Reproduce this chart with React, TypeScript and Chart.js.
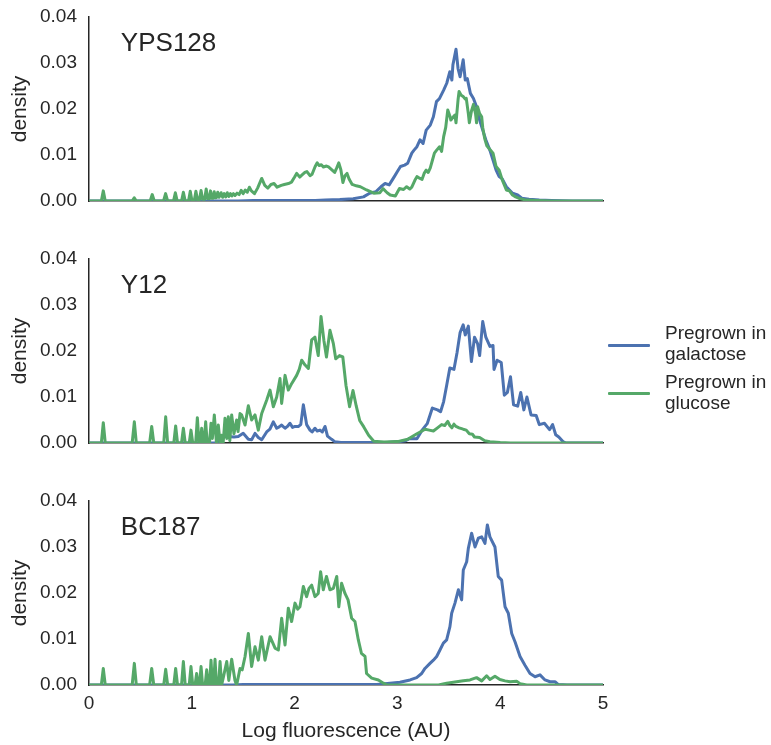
import React, { useEffect, useRef } from "react";
import { Chart, registerables } from "chart.js";

Chart.register(...registerables);

// ---------------- data ----------------
const panelNames = ["YPS128", "Y12", "BC187"];
const seriesNames = ["Pregrown in galactose", "Pregrown in glucose"];
const legendLines = [["Pregrown in", "galactose"], ["Pregrown in", "glucose"]];
const xTicks = [0, 1, 2, 3, 4, 5];
const yTicks = [0, 0.01, 0.02, 0.03, 0.04];
const xTitle = "Log fluorescence (AU)";
const yTitle = "density";

type P = [number, number];

const yps128Galactose: P[] = [
  [0, 0], [1.45, 0], [1.6, 0.0001], [2.0, 0.0001], [2.2, 0.0001], [2.3, 0.0002], [2.44, 0.0003], [2.57, 0.0005],
  [2.67, 0.0009], [2.73, 0.0017], [2.79, 0.002], [2.84, 0.0031], [2.88, 0.0038], [2.92, 0.0035], [2.97, 0.0053],
  [3.0, 0.0064], [3.03, 0.0075], [3.07, 0.0078], [3.1, 0.0082], [3.14, 0.0104], [3.16, 0.011], [3.19, 0.0118],
  [3.22, 0.0133], [3.25, 0.0125], [3.28, 0.0154], [3.32, 0.0165], [3.35, 0.0183], [3.38, 0.0216], [3.41, 0.0223],
  [3.45, 0.0241], [3.48, 0.0256], [3.51, 0.0281], [3.53, 0.0263], [3.54, 0.0296], [3.57, 0.033], [3.59, 0.0288],
  [3.61, 0.027], [3.64, 0.0307], [3.66, 0.0263], [3.68, 0.0266], [3.71, 0.0234], [3.74, 0.0223], [3.77, 0.0205],
  [3.8, 0.0176], [3.83, 0.0154], [3.86, 0.0133], [3.9, 0.011], [3.93, 0.0089], [3.96, 0.0067], [3.99, 0.0053],
  [4.02, 0.0048], [4.06, 0.0031], [4.09, 0.0024], [4.12, 0.0017], [4.17, 0.0013], [4.21, 0.0006], [4.28, 0.0004],
  [4.38, 0.0002], [4.5, 0.0001], [4.7, 0], [5, 0],
];

const yps128Glucose: P[] = [
  [0, 0], [0.12, 0], [0.139, 0.0022], [0.158, 0], [0.42, 0], [0.44, 0.0007], [0.46, 0],
  [0.595, 0], [0.615, 0.0014], [0.635, 0], [0.725, 0], [0.745, 0.0016], [0.765, 0],
  [0.822, 0], [0.84, 0.0018], [0.858, 0], [0.9, 0], [0.918, 0.0019], [0.936, 0],
  [0.968, 0], [0.985, 0.0021], [1.002, 0], [1.025, 0.0002], [1.04, 0.0021], [1.055, 0.0003],
  [1.075, 0.0003], [1.09, 0.0023], [1.105, 0.0004], [1.125, 0.0004], [1.14, 0.0026], [1.155, 0.0005],
  [1.17, 0.0005], [1.182, 0.0022], [1.195, 0.0006], [1.207, 0.0006], [1.218, 0.002], [1.232, 0.0007],
  [1.242, 0.0008], [1.252, 0.0019], [1.265, 0.0008], [1.285, 0.0018], [1.3, 0.0008], [1.315, 0.0016],
  [1.33, 0.0009], [1.345, 0.0018], [1.36, 0.001], [1.375, 0.0016], [1.39, 0.0011], [1.405, 0.0016],
  [1.42, 0.0012], [1.44, 0.0017], [1.46, 0.0014], [1.48, 0.0023], [1.5, 0.0016], [1.52, 0.0024],
  [1.54, 0.0019], [1.56, 0.003], [1.58, 0.0022], [1.61, 0.0016], [1.64, 0.0028], [1.68, 0.0049],
  [1.71, 0.0034], [1.74, 0.0028], [1.77, 0.0036], [1.8, 0.0038], [1.83, 0.003], [1.87, 0.0034],
  [1.9, 0.0036], [1.94, 0.0038], [1.97, 0.0041], [2.0, 0.0052], [2.02, 0.006], [2.05, 0.0052],
  [2.07, 0.0056], [2.1, 0.0062], [2.12, 0.0064], [2.15, 0.0055], [2.17, 0.0058], [2.2, 0.0075],
  [2.22, 0.0083], [2.24, 0.0077], [2.26, 0.0079], [2.28, 0.0074], [2.31, 0.0076], [2.33, 0.0074],
  [2.36, 0.0068], [2.39, 0.0062], [2.41, 0.0072], [2.43, 0.0083], [2.45, 0.0068], [2.47, 0.004],
  [2.49, 0.0055], [2.51, 0.006], [2.53, 0.0048], [2.56, 0.0036], [2.6, 0.0033], [2.64, 0.0031],
  [2.7, 0.0024], [2.77, 0.0017], [2.83, 0.0018], [2.86, 0.0027], [2.9, 0.0018], [2.93, 0.0013],
  [2.98, 0.0011], [3.02, 0.0027], [3.06, 0.0025], [3.09, 0.0031], [3.12, 0.0026], [3.14, 0.003],
  [3.17, 0.0045], [3.19, 0.0053], [3.22, 0.0049], [3.24, 0.0047], [3.26, 0.006], [3.28, 0.0067],
  [3.3, 0.0062], [3.32, 0.0072], [3.34, 0.0088], [3.36, 0.0104], [3.38, 0.011], [3.41, 0.0118],
  [3.43, 0.0108], [3.45, 0.014], [3.47, 0.016], [3.49, 0.0198], [3.51, 0.0185], [3.52, 0.0176],
  [3.54, 0.0182], [3.56, 0.0187], [3.57, 0.017], [3.59, 0.022], [3.6, 0.0238], [3.62, 0.023],
  [3.64, 0.0227], [3.66, 0.0222], [3.67, 0.0223], [3.69, 0.019], [3.7, 0.017], [3.72, 0.0195],
  [3.74, 0.021], [3.76, 0.019], [3.77, 0.017], [3.78, 0.0205], [3.8, 0.019], [3.82, 0.0183],
  [3.83, 0.016], [3.85, 0.0135], [3.87, 0.012], [3.9, 0.0112], [3.93, 0.0104], [3.96, 0.0075],
  [3.99, 0.0067], [4.02, 0.0046], [4.06, 0.0024], [4.09, 0.0022], [4.12, 0.0013], [4.15, 0.0009],
  [4.18, 0.0006], [4.25, 0.0002], [4.35, 0.0001], [4.5, 0], [5, 0],
];

const y12Galactose: P[] = [
  [0, 0], [1.25, 0], [1.258, 0.0012], [1.29, 0.0014], [1.35, 0.0014], [1.41, 0.0013], [1.452, 0.0014],
  [1.5, 0.0021], [1.55, 0.0008], [1.582, 0.0007], [1.615, 0.0021], [1.647, 0.0012], [1.68, 0.0007],
  [1.728, 0.0024], [1.76, 0.003], [1.793, 0.0046], [1.826, 0.0032], [1.85, 0.0035], [1.874, 0.0039],
  [1.907, 0.0032], [1.93, 0.0036], [1.955, 0.0043], [1.98, 0.0034], [2.004, 0.0036], [2.036, 0.0036],
  [2.06, 0.004], [2.085, 0.0083], [2.117, 0.004], [2.15, 0.0028], [2.17, 0.0024], [2.198, 0.0032],
  [2.22, 0.0026], [2.247, 0.0028], [2.27, 0.0024], [2.296, 0.0036], [2.32, 0.0015], [2.36, 0.0008],
  [2.39, 0.0003], [2.45, 0.0001], [2.9, 0.0001], [3.02, 0.0003], [3.08, 0.0005], [3.12, 0.001],
  [3.19, 0.0009], [3.24, 0.0028], [3.29, 0.0042], [3.34, 0.0076], [3.39, 0.0072], [3.42, 0.0068],
  [3.45, 0.009], [3.48, 0.0126], [3.51, 0.0163], [3.55, 0.016], [3.58, 0.0196], [3.61, 0.024],
  [3.64, 0.0257], [3.66, 0.0235], [3.69, 0.0254], [3.72, 0.0177], [3.75, 0.023], [3.78, 0.0216],
  [3.8, 0.019], [3.83, 0.0264], [3.86, 0.023], [3.9, 0.021], [3.93, 0.0212], [3.94, 0.016],
  [3.97, 0.018], [4.01, 0.0175], [4.04, 0.0104], [4.07, 0.011], [4.1, 0.0144], [4.13, 0.0083],
  [4.17, 0.008], [4.2, 0.011], [4.23, 0.0072], [4.26, 0.01], [4.3, 0.0061], [4.35, 0.006],
  [4.38, 0.004], [4.43, 0.0043], [4.48, 0.0029], [4.51, 0.004], [4.54, 0.0018], [4.57, 0.0013],
  [4.61, 0.0003], [4.64, 0], [5, 0],
];

const y12Glucose: P[] = [
  [0, 0], [0.12, 0], [0.139, 0.0044], [0.158, 0], [0.42, 0], [0.441, 0.0046], [0.46, 0],
  [0.59, 0], [0.61, 0.0036], [0.63, 0], [0.727, 0], [0.746, 0.0057], [0.765, 0],
  [0.825, 0], [0.843, 0.0037], [0.861, 0], [0.9, 0], [0.918, 0.0032], [0.936, 0],
  [0.975, 0], [0.992, 0.0028], [1.009, 0], [1.038, 0], [1.054, 0.0055], [1.07, 0],
  [1.082, 0], [1.096, 0.0032], [1.11, 0], [1.12, 0], [1.135, 0.0046], [1.15, 0],
  [1.172, 0], [1.187, 0.0043], [1.2, 0.001], [1.219, 0.0061], [1.24, 0], [1.258, 0.0039],
  [1.275, 0], [1.29, 0.0017], [1.305, 0], [1.323, 0.0054], [1.34, 0.001], [1.355, 0.0057],
  [1.37, 0.0005], [1.388, 0.0061], [1.41, 0.002], [1.436, 0.005], [1.45, 0.0025], [1.469, 0.0064],
  [1.485, 0.0061], [1.518, 0.0039], [1.55, 0.0081], [1.582, 0.005], [1.615, 0.0061], [1.647, 0.0028],
  [1.68, 0.0064], [1.728, 0.0093], [1.761, 0.0115], [1.793, 0.0079], [1.826, 0.01], [1.858, 0.014],
  [1.874, 0.0086], [1.907, 0.0147], [1.939, 0.0115], [1.971, 0.0129], [2.02, 0.0147], [2.045, 0.016],
  [2.069, 0.018], [2.1, 0.017], [2.134, 0.0162], [2.166, 0.0224], [2.198, 0.023], [2.23, 0.019],
  [2.257, 0.0275], [2.285, 0.0223], [2.31, 0.0187], [2.344, 0.0245], [2.377, 0.0216], [2.4, 0.0183],
  [2.437, 0.019], [2.469, 0.0187], [2.5, 0.0125], [2.535, 0.0079], [2.568, 0.0114], [2.6, 0.008],
  [2.633, 0.0049], [2.673, 0.0035], [2.72, 0.0017], [2.77, 0.0004], [2.87, 0.0002], [3.0, 0.0003],
  [3.1, 0.0008], [3.19, 0.002], [3.23, 0.0025], [3.27, 0.003], [3.31, 0.0028], [3.35, 0.0026],
  [3.39, 0.0033], [3.43, 0.004], [3.46, 0.0038], [3.49, 0.0047], [3.51, 0.0038], [3.53, 0.0033],
  [3.55, 0.0041], [3.57, 0.0036], [3.6, 0.0033], [3.64, 0.003], [3.67, 0.0028], [3.7, 0.002],
  [3.73, 0.0019], [3.75, 0.0013], [3.8, 0.0012], [3.85, 0.0005], [3.9, 0.0003], [4.0, 0.0001],
  [4.1, 0], [5, 0],
];

const bc187Galactose: P[] = [
  [0, 0], [1.4, 0], [1.5, 0.0001], [2.8, 0.0001], [2.928, 0.0004], [3.025, 0.0006], [3.123, 0.0011],
  [3.187, 0.0016], [3.236, 0.0025], [3.268, 0.0036], [3.317, 0.0047], [3.35, 0.0054], [3.382, 0.0062],
  [3.414, 0.0076], [3.447, 0.0091], [3.479, 0.0098], [3.511, 0.0127], [3.528, 0.0156], [3.56, 0.0178],
  [3.593, 0.0207], [3.625, 0.0185], [3.641, 0.025], [3.674, 0.0268], [3.69, 0.0297], [3.722, 0.033],
  [3.755, 0.03], [3.787, 0.0319], [3.82, 0.0322], [3.852, 0.0308], [3.875, 0.0348], [3.9, 0.0322],
  [3.949, 0.03], [3.981, 0.0236], [4.014, 0.0228], [4.047, 0.017], [4.079, 0.0156], [4.112, 0.0112],
  [4.144, 0.0094], [4.193, 0.0062], [4.241, 0.0043], [4.29, 0.0025], [4.339, 0.0018], [4.387, 0.0022],
  [4.436, 0.0011], [4.485, 0.0007], [4.533, 0.0007], [4.566, 0.0001], [4.65, 0], [5, 0],
];

const bc187Glucose: P[] = [
  [0, 0], [0.12, 0], [0.139, 0.0036], [0.158, 0], [0.42, 0], [0.441, 0.0047], [0.46, 0],
  [0.59, 0], [0.61, 0.0036], [0.63, 0], [0.727, 0], [0.746, 0.0034], [0.765, 0],
  [0.825, 0], [0.843, 0.0036], [0.861, 0], [0.9, 0], [0.918, 0.0051], [0.936, 0],
  [0.975, 0], [0.992, 0.004], [1.009, 0], [1.032, 0], [1.047, 0.0025], [1.062, 0],
  [1.075, 0], [1.09, 0.004], [1.105, 0], [1.13, 0], [1.145, 0.0033], [1.16, 0],
  [1.173, 0], [1.187, 0.0054], [1.2, 0], [1.212, 0], [1.226, 0.0056], [1.24, 0],
  [1.26, 0], [1.275, 0.0051], [1.29, 0], [1.31, 0.002], [1.34, 0.0051], [1.36, 0.001],
  [1.388, 0.0056], [1.42, 0.001], [1.436, 0], [1.45, 0.0015], [1.469, 0.0036], [1.49, 0.0033],
  [1.518, 0.0062], [1.55, 0.0112], [1.582, 0.004], [1.615, 0.0083], [1.647, 0.0054], [1.68, 0.0105],
  [1.712, 0.0054], [1.761, 0.0105], [1.81, 0.008], [1.842, 0.0076], [1.874, 0.0145], [1.907, 0.0087],
  [1.939, 0.0167], [1.971, 0.0138], [2.004, 0.0178], [2.03, 0.0165], [2.052, 0.017], [2.085, 0.0214],
  [2.117, 0.0192], [2.14, 0.021], [2.166, 0.0217], [2.198, 0.0192], [2.23, 0.0199], [2.253, 0.0246],
  [2.279, 0.0207], [2.31, 0.0236], [2.344, 0.0207], [2.377, 0.021], [2.41, 0.0236], [2.43, 0.017],
  [2.457, 0.0221], [2.49, 0.0199], [2.52, 0.0185], [2.555, 0.0145], [2.587, 0.0138], [2.62, 0.0098],
  [2.65, 0.0069], [2.685, 0.0062], [2.7, 0.0025], [2.75, 0.0015], [2.815, 0.0011], [2.864, 0.0004],
  [2.9, 0], [3.4, 0], [3.479, 0.0004], [3.576, 0.0007], [3.641, 0.0009], [3.706, 0.0011],
  [3.77, 0.0016], [3.82, 0.0009], [3.868, 0.002], [3.9, 0.0012], [3.949, 0.0019], [3.997, 0.0012],
  [4.047, 0.0009], [4.096, 0.0007], [4.16, 0.0008], [4.193, 0.0003], [4.258, 0], [5, 0],
];

const panelGalactose = [yps128Galactose, y12Galactose, bc187Galactose];
const panelGlucose = [yps128Glucose, y12Glucose, bc187Glucose];

// ---------------- style / layout ----------------
const W = 771;
const H = 745;
const FONT = '"Liberation Sans", Arial, Helvetica, sans-serif';
const TEXT = "#262626";
const BLUE = "#4C72B0";
const GREEN = "#55A868";
const PLOT_LEFT = 89;
const PLOT_RIGHT = 603;
const panelTop = [17, 259, 501];
const panelBottom = [201, 443, 685];

Chart.defaults.font.family = FONT;
Chart.defaults.color = TEXT;

const panelLabelPlugin = {
  id: "panelLabel",
  afterDatasetsDraw(chart: any, _args: any, opts: any) {
    const { ctx, scales } = chart;
    ctx.save();
    ctx.font = `26px ${FONT}`;
    ctx.fillStyle = TEXT;
    ctx.textAlign = "left";
    ctx.textBaseline = "alphabetic";
    ctx.fillText(opts.text, scales.x.getPixelForValue(0.31), scales.y.getPixelForValue(0.0327));
    ctx.restore();
  },
};

function Panel({ index }: { index: number }) {
  const ref = useRef<HTMLCanvasElement>(null);
  useEffect(() => {
    const last = index === 2;
    const xh = last ? 60 : 10;
    const toXY = (arr: P[]) => arr.map(([x, y]) => ({ x, y }));
    const lineStyle = {
      borderWidth: 3,
      pointRadius: 0,
      tension: 0,
      fill: false,
      borderJoinStyle: "round",
      borderCapStyle: "round",
    };
    const chart = new Chart(ref.current as HTMLCanvasElement, {
      type: "line",
      data: {
        datasets: [
          {
            label: seriesNames[0],
            data: toXY(panelGalactose[index]),
            borderColor: BLUE,
            backgroundColor: BLUE,
            order: 1,
            ...lineStyle,
          },
          {
            label: seriesNames[1],
            data: toXY(panelGlucose[index]),
            borderColor: GREEN,
            backgroundColor: GREEN,
            order: 0,
            ...lineStyle,
          },
        ],
      },
      options: {
        animation: false,
        responsive: false,
        events: [],
        parsing: false as any,
        layout: {
          padding: { top: panelTop[index], bottom: H - panelBottom[index] - xh, left: 0, right: W - PLOT_RIGHT },
        },
        plugins: {
          legend: { display: false },
          tooltip: { enabled: false },
          panelLabel: { text: panelNames[index] },
        } as any,
        scales: {
          x: {
            type: "linear",
            min: 0,
            max: 5,
            z: 1,
            grid: { display: false, drawTicks: false },
            border: { display: true, color: TEXT, width: 1.5 },
            ticks: {
              display: last,
              padding: 7,
              color: TEXT,
              font: { size: 19, family: FONT },
              callback: (v: any) => String(v),
            },
            afterBuildTicks: (s: any) => {
              s.ticks = xTicks.map((v) => ({ value: v }));
            },
            afterFit: (s: any) => {
              s.height = xh;
              s.paddingLeft = 0;
              s.paddingRight = 0;
            },
            title: {
              display: last,
              text: xTitle,
              color: TEXT,
              font: { size: 21, family: FONT },
              padding: { top: 0, bottom: 1 },
            },
          },
          y: {
            type: "linear",
            min: 0,
            max: 0.04,
            z: 1,
            grid: { display: false, drawTicks: false },
            border: { display: true, color: TEXT, width: 1.5 },
            ticks: {
              padding: 12,
              color: TEXT,
              font: { size: 19, family: FONT },
              callback: (v: any) => Number(v).toFixed(2),
            },
            afterBuildTicks: (s: any) => {
              s.ticks = yTicks.map((v) => ({ value: v }));
            },
            afterFit: (s: any) => {
              s.width = PLOT_LEFT;
              s.paddingTop = 0;
              s.paddingBottom = 0;
            },
            title: {
              display: true,
              text: yTitle,
              color: TEXT,
              font: { size: 21, family: FONT },
              padding: { top: 8, bottom: 0 },
            },
          },
        },
      },
      plugins: [panelLabelPlugin],
    } as any);
    return () => chart.destroy();
  }, [index]);
  return (
    <canvas
      ref={ref}
      width={W}
      height={H}
      style={{ position: "absolute", left: 0, top: 0, width: W, height: H }}
    />
  );
}

function Legend() {
  const colors = [BLUE, GREEN];
  const blockTops = [322, 371];
  const swatchTops = [343.5, 392];
  return (
    <>
      {legendLines.map((lines, i) => (
        <React.Fragment key={i}>
          <div
            style={{
              position: "absolute",
              left: 608,
              top: swatchTops[i],
              width: 42,
              height: 3,
              background: colors[i],
              borderRadius: 1,
            }}
          />
          <div
            style={{
              position: "absolute",
              left: 665,
              top: blockTops[i],
              fontFamily: FONT,
              fontSize: 19,
              lineHeight: "21px",
              color: TEXT,
              whiteSpace: "nowrap",
            }}
          >
            {lines.map((t, j) => (
              <div key={j}>{t}</div>
            ))}
          </div>
        </React.Fragment>
      ))}
    </>
  );
}

export default function App() {
  return (
    <div style={{ position: "absolute", left: 0, top: 0, width: W, height: H, background: "#fff", overflow: "hidden" }}>
      {[0, 1, 2].map((i) => (
        <Panel key={i} index={i} />
      ))}
      <Legend />
    </div>
  );
}
